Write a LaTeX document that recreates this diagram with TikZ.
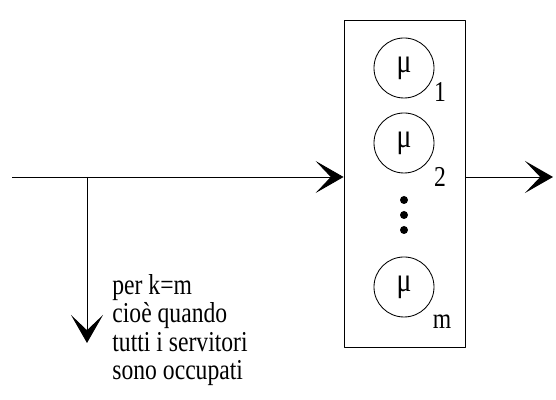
\documentclass[tikz,border=0pt]{standalone}
\usepackage{fontspec}
\setmainfont{Liberation Serif}[FakeStretch=0.82]
\usetikzlibrary{arrows.meta}
\tikzset{
	servitore/.style={circle, draw, inner sep=0pt, minimum size=1.5cm, font=\fontsize{24}{24}\selectfont},
	pedice/.style={inner sep=0pt},
	freccia/.style={-{Stealth[length=7mm, width=8mm, inset=3.8mm]}},
}
\begin{document}
\begin{tikzpicture}[font=\fontsize{20.5}{20.2}\selectfont, line width=0.6pt, line join=round]
	\useasboundingbox (0,0) rectangle (13.9,10);
	\path
	(0.3,5.575) coordinate (ingresso)
	(2.175,5.575) coordinate (ramo)
	(2.175,1.425) coordinate (rifiuto)
	(13.825,5.575) coordinate (uscita)
	(10.1125,5.4125) node[draw, minimum width=3.025cm, minimum height=8.175cm] (box){}
	(10.1,8.3) node[servitore] (s1){μ}
	(10.1,6.425) node[servitore] (s2){μ}
	(10.1,2.825) node[servitore] (sm){μ}
	(11.0,7.7) node[pedice] (p1){1}
	(11.0,5.575) node[pedice] (p2){2}
	(11.05,1.95) node[pedice] (pm){m}
	(2.8,3.15) node[anchor=north west, align=left, inner sep=0pt] (nota){per k=m\\cioè quando\\tutti i servitori\\sono occupati}
	;
	\fill (10.1,5.0) circle (0.1) (10.1,4.625) circle (0.1) (10.1,4.25) circle (0.1);
	\draw[freccia] (ingresso) -- (ingresso -| box.west);
	\draw[freccia] (ramo) -- (rifiuto);
	\draw[freccia] (uscita -| box.east) -- (uscita);
\end{tikzpicture}
\end{document}
